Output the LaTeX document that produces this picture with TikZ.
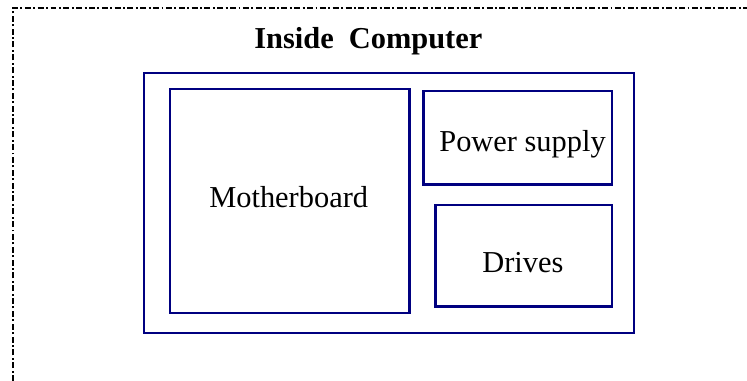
\documentclass[tikz,border=0pt]{standalone}
\usepackage{fontspec}
\setmainfont{Liberation Serif}
\definecolor{boxblue}{RGB}{0,0,128}
\begin{document}
\begin{tikzpicture}
        \tikzset{box/.style = {shape=rectangle,draw=boxblue,line width=1.4pt,inner sep=0pt}}
        \tikzset{word/.style = {anchor=base west,inner sep=0pt,font=\fontsize{17.3}{21}\selectfont}}
        \useasboundingbox (0,0) rectangle (14.94,7.62);
        % dash-dot frame, top and left only
        \draw[line width=1.2pt,dash pattern=on 3.4pt off 1.4pt on 1.1pt off 1.4pt]
                (0.26,0) -- (0.26,7.46) -- (14.94,7.46);
        % title
        \node[word,font=\fontsize{17.3}{21}\selectfont\bfseries] (title) at (5.08,6.654) {Inside~~Computer};
        % the case and what sits in it
        \node[box,minimum width=9.80cm,minimum height=5.20cm] (case) at (7.78,3.56) {};
        \node[box,minimum width=4.79cm,minimum height=4.48cm] (mboard) at (5.795,3.60) {};
        \node[box,minimum width=3.774cm,minimum height=1.874cm] (psu) at (10.353,4.863) {};
        \node[box,minimum width=3.534cm,minimum height=2.034cm] (drives) at (10.473,2.503) {};
        % labels in the boxes
        \node[word] (mboardtext) at (4.18,3.46) {Motherboard};
        \node[word] (psutext) at (8.78,4.586) {Power supply};
        \node[word] (drivestext) at (9.64,2.174) {Drives};
        \end{tikzpicture}
\end{document}
